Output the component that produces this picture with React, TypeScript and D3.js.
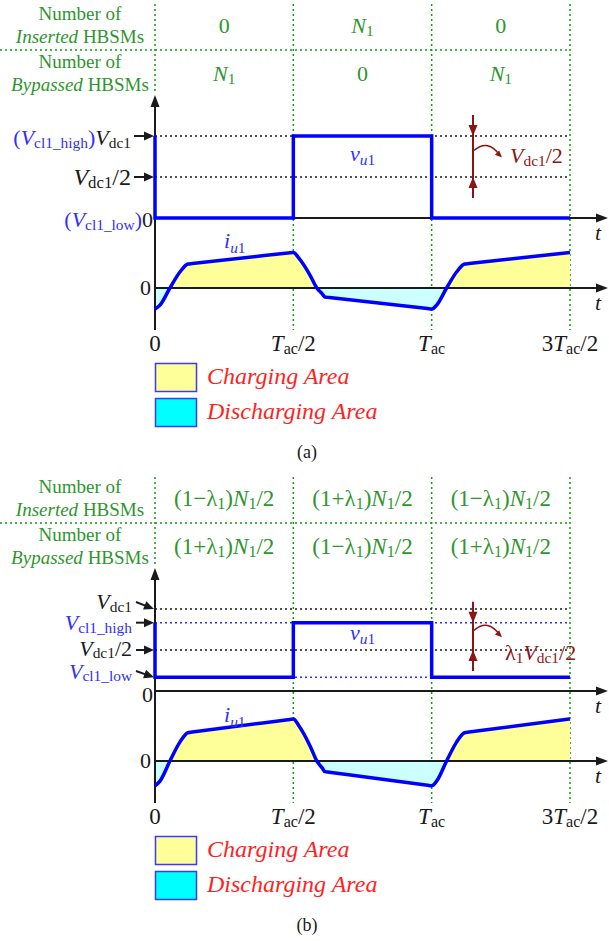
import React from 'react';
import * as d3 from 'd3';

type Part = { s: string; it?: boolean; sub?: boolean; fill?: string };

const FONT = '"Liberation Serif", "Times New Roman", serif';
const BLUE = '#0000ff';
const LBLUE = '#2f2fff';
const BLACK = '#1a1a1a';
const GREEN_T = '#2e962e';
const GREEN_L = '#129a12';
const DRED = '#8b1414';
const RED = '#ff1f1f';

// time axis (units of T_ac)
const tickTimes = [0, 0.5, 1, 1.5];
const tickLabels: Part[][] = [
  [{ s: '0' }],
  [{ s: 'T', it: true }, { s: 'ac', sub: true }, { s: '/2' }],
  [{ s: 'T', it: true }, { s: 'ac', sub: true }],
  [{ s: '3' }, { s: 'T', it: true }, { s: 'ac', sub: true }, { s: '/2' }],
];

// arm current i_u1 (per unit of its peak)
const iTimes = [0, 0.018, 0.054, 0.09, 0.119, 0.135, 0.48, 0.5, 0.52, 0.56, 0.585, 0.605, 0.614, 0.63, 0.985, 1.0, 1.018, 1.054, 1.09, 1.119, 1.135, 1.5];
const iValues = [-0.59, -0.48, 0, 0.45, 0.674, 0.688, 0.983, 1.0, 0.84, 0.365, 0, -0.17, -0.253, -0.267, -0.577, -0.59, -0.48, 0, 0.45, 0.674, 0.688, 1.0];

// arm voltage v_u1: corner times and inserted flags
const vTimes = [0, 0, 0.5, 0.5, 1, 1, 1.5];
const vInserted = [1, 0, 0, 1, 1, 0, 0];

const lambda1 = 2 / 3;

// table
const headerRows: Part[][][] = [
  [[{ s: 'Number of' }], [{ s: 'Inserted', it: true }, { s: ' HBSMs' }]],
  [[{ s: 'Number of' }], [{ s: 'Bypassed', it: true }, { s: ' HBSMs' }]],
];
const N1: Part[] = [{ s: 'N', it: true }, { s: '1', sub: true }];
const ZERO: Part[] = [{ s: '0' }];
const LM: Part[] = [{ s: '(1−' }, { s: 'λ' }, { s: '1', sub: true }, { s: ')' }, { s: 'N', it: true }, { s: '1', sub: true }, { s: '/2' }];
const LP: Part[] = [{ s: '(1+' }, { s: 'λ' }, { s: '1', sub: true }, { s: ')' }, { s: 'N', it: true }, { s: '1', sub: true }, { s: '/2' }];
const tableA: Part[][][] = [[ZERO, N1, ZERO], [N1, ZERO, N1]];
const tableB: Part[][][] = [[LM, LP, LM], [LP, LM, LP]];

const legendItems = [
  { label: 'Charging Area', fill: '#ffff99' },
  { label: 'Discharging Area', fill: '#00ffff' },
];

const x = d3.scaleLinear().domain([0, 1.5]).range([155, 570]);

function Rich({ x, y, parts, size, anchor = 'start', fill = BLACK, subScale = 0.7, shiftEm = 0.14 }: any) {
  const shift = size * shiftEm;
  let down = false;
  return (
    <text x={x} y={y} textAnchor={anchor} fontFamily={FONT} fontSize={size} fill={fill} style={{ whiteSpace: 'pre' }}>
      {parts.map((p: Part, i: number) => {
        let dy = 0;
        if (p.sub && !down) { dy = shift; down = true; }
        else if (!p.sub && down) { dy = -shift; down = false; }
        return (
          <tspan key={i} dy={dy ? dy : undefined} fontSize={p.sub ? size * subScale : undefined}
            fontStyle={p.it ? 'italic' : undefined} fill={p.fill}>{p.s}</tspan>
        );
      })}
    </text>
  );
}

function Panel({ off, vHigh, vLow, iPx, table, caption, b }: any) {
  const Y = (v: number) => v + off;
  const vScale = d3.scaleLinear().domain([0, 1]).range([Y(218), Y(136)]);
  const iZero = Y(288);
  const iScale = d3.scaleLinear().domain([0, 1]).range([iZero, iZero - iPx]);
  const pts = iTimes.map((t, k) => [t, iValues[k]] as [number, number]);
  const line = d3.line<[number, number]>().x(d => x(d[0])).y(d => iScale(d[1])).curve(d3.curveMonotoneX);
  const area = d3.area<[number, number]>().x(d => x(d[0])).y0(iZero).y1(d => iScale(d[1])).curve(d3.curveMonotoneX);
  const vPts = vTimes.map((t, k) => [t, vLow + vInserted[k] * (vHigh - vLow)] as [number, number]);
  const vLine = d3.line<[number, number]>().x(d => x(d[0])).y(d => vScale(d[1]));
  const id = b ? 'b' : 'a';
  const axisX = x(0);
  const tipY = Y(95);
  const arrowR = 608;
  const mids = [0.25, 0.75, 1.25];
  const dot = '2,3';

  const leftLabels = b ? (
    <g>
      <Rich x={132} y={Y(136)} size={22} parts={[{ s: 'V', it: true }, { s: 'dc1', sub: true }]} anchor="end" />
      <Rich x={132} y={Y(157)} size={22} fill={LBLUE} parts={[{ s: 'V', it: true }, { s: 'cl1_high', sub: true }]} anchor="end" />
      <Rich x={132} y={Y(183)} size={22} parts={[{ s: 'V', it: true }, { s: 'dc1', sub: true }, { s: '/2' }]} anchor="end" shiftEm={0.1} />
      <Rich x={132} y={Y(206)} size={22} fill={LBLUE} parts={[{ s: 'V', it: true }, { s: 'cl1_low', sub: true }]} anchor="end" shiftEm={0.1} />
      <Rich x={153} y={Y(229)} size={22} anchor="end" parts={ZERO} />
    </g>
  ) : (
    <g>
      <Rich x={131} y={Y(145)} size={22} anchor="end" parts={[{ s: '(', fill: LBLUE }, { s: 'V', it: true, fill: LBLUE }, { s: 'cl1_high', sub: true, fill: LBLUE }, { s: ')', fill: LBLUE }, { s: 'V', it: true }, { s: 'dc1', sub: true }]} />
      <Rich x={131} y={Y(185)} size={24} anchor="end" parts={[{ s: 'V', it: true }, { s: 'dc1', sub: true }, { s: '/2' }]} />
      <Rich x={153} y={Y(227)} size={22} anchor="end" parts={[{ s: '(', fill: LBLUE }, { s: 'V', it: true, fill: LBLUE }, { s: 'cl1_low', sub: true, fill: LBLUE }, { s: ')', fill: LBLUE }, { s: '0' }]} />
    </g>
  );

  const arrowHead = (x1: number, y1: number, x2: number, y2: number, col: string, L = 11, Wd = 4.5) => {
    const ang = Math.atan2(y2 - y1, x2 - x1);
    const bx = x2 - L * Math.cos(ang), by = y2 - L * Math.sin(ang);
    const px = -Math.sin(ang) * Wd, py = Math.cos(ang) * Wd;
    return <polygon points={`${x2},${y2} ${bx + px},${by + py} ${bx - px},${by - py}`} fill={col} />;
  };
  const arrow = (x1: number, y1: number, x2: number, y2: number, col = BLACK, w = 2) => {
    const a = Math.atan2(y2 - y1, x2 - x1);
    return (
      <g>
        <line x1={x1} y1={y1} x2={x2 - 6 * Math.cos(a)} y2={y2 - 6 * Math.sin(a)} stroke={col} strokeWidth={w} />
        {arrowHead(x1, y1, x2, y2, col, 10, 4.5)}
      </g>
    );
  };

  const topTip = vScale(vHigh);
  const midTip = vScale(0.5);
  const cy = (topTip + midTip) / 2;

  return (
    <g>
      <defs>
        <clipPath id={`pos-${id}`}><rect x={0} y={0} width={609} height={iZero} /></clipPath>
        <clipPath id={`neg-${id}`}><rect x={0} y={iZero} width={609} height={400} /></clipPath>
      </defs>
      {/* table */}
      <line x1={0} x2={x(1.5)} y1={Y(50)} y2={Y(50)} stroke={GREEN_L} strokeWidth={1.5} strokeDasharray={dot} />
      <line x1={axisX} x2={axisX} y1={Y(4)} y2={Y(91)} stroke={GREEN_L} strokeWidth={1.5} strokeDasharray={dot} />
      {tickTimes.slice(1).map((t, k) => (
        <line key={k} x1={x(t)} x2={x(t)} y1={Y(4)} y2={Y(330)} stroke={GREEN_L} strokeWidth={1.5} strokeDasharray={dot} />
      ))}
      {headerRows.map((rows, r) => rows.map((parts, l) => (
        <Rich key={`${r}-${l}`} x={80} y={Y(r === 0 ? (l === 0 ? 20 : 43) : (l === 0 ? 67.5 : 90.5))} size={19} anchor="middle" fill={GREEN_T} parts={parts} />
      )))}
      {table.map((row: Part[][], r: number) => row.map((parts, c) => (
        <Rich key={`v${r}-${c}`} x={x(mids[c])} y={Y(r === 0 ? 33 : 81)} size={b ? 23 : 22} anchor="middle" fill={GREEN_T} parts={parts} />
      )))}

      {/* current fills */}
      <path d={area(pts) || ''} fill="#ffff99" clipPath={`url(#pos-${id})`} />
      <path d={area(pts) || ''} fill="#ccffff" clipPath={`url(#neg-${id})`} />

      {/* dotted reference levels */}
      <line x1={axisX} x2={x(1.5)} y1={vScale(1)} y2={vScale(1)} stroke={BLACK} strokeWidth={1.5} strokeDasharray={dot} />
      <line x1={axisX} x2={x(1.5)} y1={vScale(0.5)} y2={vScale(0.5)} stroke={BLACK} strokeWidth={1.5} strokeDasharray={dot} />
      {b && <line x1={axisX} x2={x(1.5)} y1={vScale(vHigh)} y2={vScale(vHigh)} stroke={LBLUE} strokeWidth={1.5} strokeDasharray={dot} />}
      {b && <line x1={axisX} x2={x(1.5)} y1={vScale(vLow)} y2={vScale(vLow)} stroke={LBLUE} strokeWidth={1.5} strokeDasharray={dot} />}

      {/* axes */}
      <line x1={axisX} x2={axisX} y1={tipY + 8} y2={Y(330)} stroke={BLACK} strokeWidth={2} />
      {arrowHead(axisX, tipY + 20, axisX, tipY, BLACK, 12, 4.5)}
      <line x1={axisX} x2={arrowR - 6} y1={vScale(0)} y2={vScale(0)} stroke={BLACK} strokeWidth={2} />
      {arrowHead(axisX, vScale(0), arrowR, vScale(0), BLACK, 12, 4.5)}
      <line x1={axisX} x2={arrowR - 6} y1={iZero} y2={iZero} stroke={BLACK} strokeWidth={2} />
      {arrowHead(axisX, iZero, arrowR, iZero, BLACK, 12, 4.5)}
      <Rich x={598} y={vScale(0) + 22} size={22} anchor="middle" parts={[{ s: 't', it: true }]} />
      <Rich x={598} y={iZero + 22} size={22} anchor="middle" parts={[{ s: 't', it: true }]} />

      {/* waveforms */}
      <path d={vLine(vPts) || ''} fill="none" stroke={BLUE} strokeWidth={3.5} />
      <path d={line(pts) || ''} fill="none" stroke={BLUE} strokeWidth={3.5} strokeLinejoin="round" />

      {/* left labels */}
      {leftLabels}
      {b ? (
        <g>
          {arrow(136, Y(129), axisX - 1, vScale(1))}
          {arrow(136, vScale(vHigh), axisX - 1, vScale(vHigh))}
          {arrow(136, vScale(0.5), axisX - 1, vScale(0.5))}
          {arrow(136, Y(198), axisX - 1, vScale(vLow))}
        </g>
      ) : (
        <g>
          {arrow(134, vScale(1), axisX - 1, vScale(1))}
          {arrow(134, vScale(0.5), axisX - 1, vScale(0.5))}
        </g>
      )}
      <Rich x={151} y={iZero + 7} size={22} anchor="end" parts={ZERO} />

      {/* waveform labels */}
      <Rich x={350} y={Y(b ? 167 : 161)} size={22} fill={LBLUE} parts={[{ s: 'v', it: true }, { s: 'u', it: true, sub: true }, { s: '1', sub: true }]} shiftEm={0.2} />
      <Rich x={224} y={Y(b ? 249 : 248)} size={22} fill={LBLUE} parts={[{ s: 'i', it: true }, { s: 'u', it: true, sub: true }, { s: '1', sub: true }]} shiftEm={0.22} />

      {/* dark red annotation */}
      <line x1={473} x2={473} y1={topTip - 21} y2={midTip + 21} stroke={DRED} strokeWidth={2} />
      {arrowHead(473, topTip - 20, 473, topTip, DRED, 11, 4.5)}
      {arrowHead(473, midTip + 20, 473, midTip, DRED, 11, 4.5)}
      <path d={`M474,${cy - 6} Q488,${cy - 18} 500,${cy - 1}`} fill="none" stroke={DRED} strokeWidth={1.5} />
      {arrowHead(492, cy - 9, 502, cy + 1, DRED, 7, 3)}
      {b ? (
        <Rich x={505} y={midTip + 10} size={22} fill={DRED} parts={[{ s: 'λ' }, { s: '1', sub: true }, { s: 'V', it: true }, { s: 'dc1', sub: true }, { s: '/2' }]} />
      ) : (
        <Rich x={510} y={cy + 6} size={22} fill={DRED} parts={[{ s: 'V', it: true }, { s: 'dc1', sub: true }, { s: '/2' }]} />
      )}

      {/* tick labels */}
      {tickTimes.map((t, k) => (
        <Rich key={k} x={x(t)} y={Y(351)} size={23} anchor="middle" parts={tickLabels[k]} />
      ))}

      {/* legend */}
      {legendItems.map((it, k) => (
        <g key={k}>
          <rect x={155.5} y={Y(363.5 + k * 35)} width={41} height={28} fill={it.fill} stroke="#3a3aff" strokeWidth={1.5} />
          <text x={207} y={Y(384 + k * 35)} fontFamily={FONT} fontSize={24} fontStyle="italic" fill={RED}>{it.label}</text>
        </g>
      ))}
      <text x={307} y={Y(458)} fontFamily={FONT} fontSize={18} textAnchor="middle" fill={BLACK}>{caption}</text>
    </g>
  );
}

export default function App() {
  return (
    <svg width={609} height={941} style={{ position: 'absolute', left: 0, top: 0, background: '#fff' }}>
      <rect width={609} height={941} fill="#fff" />
      <Panel off={0} vHigh={1} vLow={0} iPx={35.6} table={tableA} caption="(a)" b={false} />
      <Panel off={473} vHigh={(1 + lambda1) / 2} vLow={(1 - lambda1) / 2} iPx={42} table={tableB} caption="(b)" b={true} />
    </svg>
  );
}
